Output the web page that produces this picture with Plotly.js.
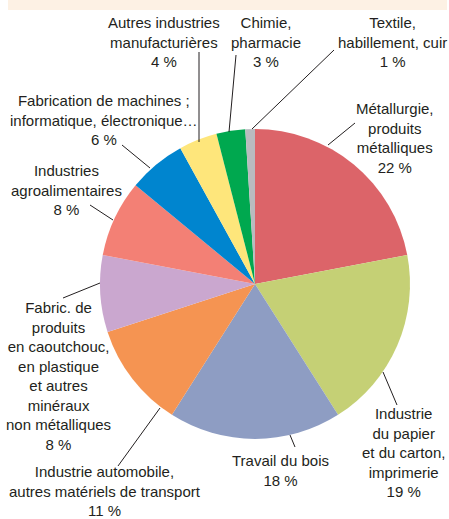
<!DOCTYPE html>
<html>
<head>
<meta charset="utf-8">
<script src="https://cdn.plot.ly/plotly-3.0.1.min.js"></script>
<style>
  body { margin: 0; background: #fff; }
  #chart { width: 449px; height: 519px; }
</style>
</head>
<body>
<div id="chart"></div>
<script>
// secteurs, dans le sens des aiguilles d'une montre depuis midi
var secteurs = [
    'Métallurgie,<br>produits<br>métalliques',
    'Industrie<br>du papier<br>et du carton,<br>imprimerie',
    'Travail du bois',
    'Industrie automobile,<br>autres matériels de transport',
    'Fabric. de<br>produits<br>en caoutchouc,<br>en plastique<br>et autres<br>minéraux<br>non métalliques',
    'Industries<br>agroalimentaires',
    'Fabrication de machines ;<br>informatique, électronique…',
    'Autres industries<br>manufacturières',
    'Chimie,<br>pharmacie',
    'Textile,<br>habillement, cuir'
];
var parts = [22, 19, 18, 11, 8, 8, 6, 4, 3, 1];
var couleurs = ['#dc6469', '#c5d075', '#8e9dc3', '#f59452', '#caa7cf',
                '#f38075', '#0085cf', '#fee67b', '#00a84f', '#b9bbbf'];

// pixel -> paper
function X(px) { return px / 449; }
function Y(py) { return 1 - py / 519; }

// centre des étiquettes et traits de rappel (pixels)
var etiquettes = [
    [395, 138], [403, 452], [280, 470], [105, 491], [58, 376],
    [66, 190], [104, 120], [164, 42], [266, 42], [392, 42]
];
var traits = [
    [355, 123, 328, 145], [383, 372, 397, 405], [290, 435, 295, 447],
    [160, 408, 118, 466], [100, 283, 63, 298], [113, 220, 90, 205],
    [150, 168, 122, 145], [199, 142, 199, 52], [229, 132, 236, 55],
    [252, 129, 334, 50]
];

var data = [{
    type: 'pie',
    values: parts,
    labels: secteurs,
    marker: { colors: couleurs, line: { width: 0 } },
    sort: false,
    direction: 'clockwise',
    rotation: 0,
    textinfo: 'none',
    hoverinfo: 'none',
    showlegend: false,
    domain: { x: [X(100), X(410)], y: [Y(439), Y(129)] }
}];

var annotations = secteurs.map(function (s, i) {
    return {
        xref: 'paper', yref: 'paper',
        x: X(etiquettes[i][0]), y: Y(etiquettes[i][1]),
        xanchor: 'center', yanchor: 'middle',
        align: 'center',
        showarrow: false,
        text: s + '<br>' + parts[i] + ' %',
        font: { family: 'Liberation Sans, Arial, sans-serif', size: 15, color: '#231f20' }
    };
});

var shapes = [{
    type: 'rect', xref: 'paper', yref: 'paper', layer: 'below',
    x0: X(8), x1: X(447), y0: Y(10), y1: 1,
    fillcolor: '#fdf1e4', line: { width: 0 }
}];
traits.forEach(function (t) {
    shapes.push({
        type: 'line', xref: 'paper', yref: 'paper',
        x0: X(t[0]), y0: Y(t[1]), x1: X(t[2]), y1: Y(t[3]),
        line: { color: '#231f20', width: 1 }
    });
});

var layout = {
    width: 449,
    height: 519,
    margin: { l: 0, r: 0, t: 0, b: 0 },
    paper_bgcolor: '#ffffff',
    annotations: annotations,
    shapes: shapes
};

Plotly.newPlot('chart', data, layout, { displayModeBar: false, staticPlot: true });
</script>
</body>
</html>
